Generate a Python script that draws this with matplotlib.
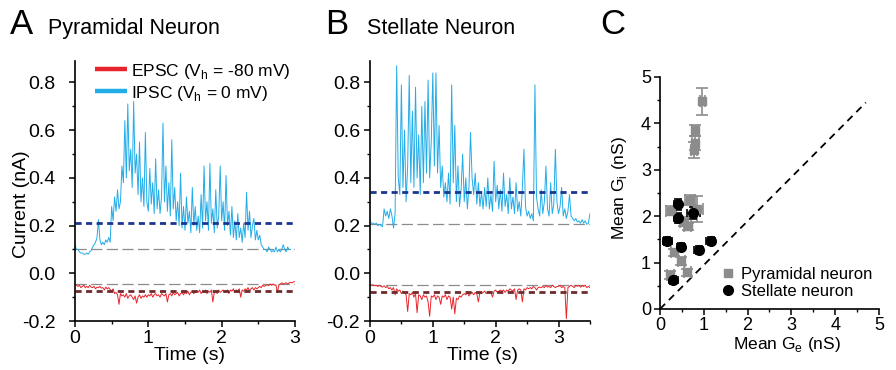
import numpy as np
import matplotlib
matplotlib.use("Agg")
import matplotlib.pyplot as plt
from matplotlib.ticker import MultipleLocator

plt.rcParams['font.family'] = ['Liberation Sans', 'DejaVu Sans']
plt.rcParams['mathtext.fontset'] = 'custom'
plt.rcParams['mathtext.rm'] = 'Liberation Sans'

# ---- panel A: pyramidal neuron traces (dt = 0.02 s) ----
pyr_dt = 0.02
pyr_ipsc = [
    0.12, 0.10, 0.10, 0.09, 0.085, 0.085, 0.08, 0.08, 0.085, 0.08, 0.09, 0.095, 0.11,
    0.12, 0.13, 0.15, 0.225, 0.14, 0.12, 0.13, 0.12, 0.14, 0.13, 0.15, 0.13,
    0.28, 0.22, 0.32, 0.26, 0.35, 0.27, 0.30, 0.45, 0.38, 0.64, 0.40, 0.71, 0.43,
    0.52, 0.36, 0.72, 0.42, 0.50, 0.33, 0.55, 0.30, 0.40, 0.28, 0.59, 0.30,
    0.26, 0.44, 0.29, 0.38, 0.25, 0.48, 0.27, 0.35, 0.25, 0.32, 0.63, 0.30, 0.45,
    0.26, 0.38, 0.24, 0.56, 0.27, 0.36, 0.22, 0.30, 0.20, 0.42, 0.19, 0.28,
    0.18, 0.32, 0.21, 0.26, 0.17, 0.36, 0.20, 0.28, 0.18, 0.24, 0.17, 0.33, 0.19,
    0.45, 0.22, 0.30, 0.18, 0.46, 0.21, 0.27, 0.17, 0.35, 0.19, 0.24, 0.45,
    0.22, 0.30, 0.18, 0.41, 0.20, 0.26, 0.16, 0.28, 0.15, 0.22, 0.14, 0.25, 0.15,
    0.19, 0.13, 0.21, 0.15, 0.34, 0.18, 0.26, 0.15, 0.20, 0.23, 0.14, 0.18,
    0.14, 0.16, 0.12, 0.11, 0.10, 0.10, 0.09, 0.11, 0.10, 0.09, 0.095, 0.09,
    0.11, 0.09, 0.10, 0.09, 0.10, 0.12, 0.10, 0.09, 0.11, 0.10, 0.10,
]
pyr_epsc = [
    -0.045, -0.05, -0.055, -0.05, -0.06, -0.055, -0.05, -0.06, -0.055, -0.06, -0.05, -0.058,
    -0.06, -0.055, -0.065, -0.058, -0.06, -0.055, -0.062, -0.06, -0.07, -0.058, -0.065, -0.06, -0.068,
    -0.075, -0.065, -0.085, -0.08, -0.09, -0.13, -0.085, -0.095, -0.09, -0.1, -0.085, -0.105,
    -0.095, -0.09, -0.1, -0.11, -0.095, -0.125, -0.1, -0.09, -0.105, -0.095, -0.1, -0.09, -0.1,
    -0.09, -0.095, -0.085, -0.1, -0.09, -0.085, -0.095, -0.09, -0.1, -0.085, -0.09, -0.095,
    -0.085, -0.12, -0.09, -0.085, -0.095, -0.08, -0.09, -0.085, -0.08, -0.095, -0.085, -0.08, -0.09,
    -0.08, -0.085, -0.075, -0.09, -0.08, -0.075, -0.085, -0.08, -0.075, -0.08, -0.07, -0.085,
    -0.075, -0.08, -0.07, -0.085, -0.075, -0.08, -0.07, -0.12, -0.08, -0.075, -0.085, -0.07, -0.08,
    -0.075, -0.07, -0.08, -0.075, -0.07, -0.085, -0.07, -0.075, -0.065, -0.08, -0.07, -0.075,
    -0.065, -0.1, -0.07, -0.075, -0.065, -0.07, -0.06, -0.075, -0.065, -0.06, -0.07, -0.06, -0.065,
    -0.06, -0.055, -0.06, -0.05, -0.055, -0.05, -0.048, -0.052, -0.045, -0.05, -0.045, -0.05,
    -0.048, -0.08, -0.05, -0.045, -0.04, -0.045, -0.042, -0.04, -0.045, -0.04, -0.038, -0.04,
    -0.036, -0.035,
]
pyr_levels = {'ipsc_base': 0.10, 'ipsc_mean': 0.21, 'epsc_base': -0.045, 'epsc_mean': -0.075}

# ---- panel B: stellate neuron traces (dt = 0.025 s) ----
ste_dt = 0.025
ste_ipsc = [
    0.22, 0.21, 0.21, 0.205, 0.21, 0.20, 0.205, 0.20, 0.195,
    0.27, 0.24, 0.26, 0.23, 0.27, 0.24, 0.19, 0.25,
    0.87, 0.40, 0.33, 0.79, 0.36, 0.60, 0.30, 0.45, 0.83, 0.38, 0.68, 0.36, 0.78, 0.40,
    0.58, 0.33, 0.70, 0.38, 0.72, 0.42, 0.81, 0.40, 0.55, 0.84, 0.45, 0.84, 0.42, 0.62,
    0.36, 0.45, 0.32, 0.38, 0.30, 0.42, 0.29, 0.79, 0.38, 0.62, 0.30, 0.45, 0.28, 0.35,
    0.50, 0.30, 0.40, 0.27, 0.36, 0.59, 0.40, 0.33, 0.42, 0.29, 0.38, 0.28, 0.34, 0.27,
    0.36, 0.28, 0.40, 0.27, 0.33, 0.26, 0.47, 0.30, 0.37, 0.27, 0.35, 0.26, 0.42, 0.28,
    0.33, 0.25, 0.40, 0.27, 0.32, 0.25, 0.38, 0.26, 0.30, 0.24, 0.36, 0.52, 0.28, 0.24,
    0.26, 0.23, 0.25, 0.22, 0.79, 0.32, 0.27, 0.24, 0.35, 0.25, 0.30, 0.45, 0.27, 0.24,
    0.38, 0.25, 0.29, 0.52, 0.30, 0.25, 0.28, 0.36, 0.24, 0.27, 0.23, 0.26, 0.33, 0.24,
    0.23, 0.22, 0.23, 0.215, 0.22, 0.21, 0.225, 0.21, 0.22, 0.205, 0.21, 0.25,
]
ste_epsc = [
    -0.045, -0.05, -0.048, -0.052, -0.05, -0.055, -0.05, -0.055, -0.058, -0.052, -0.06, -0.055,
    -0.065, -0.06, -0.07, -0.06, -0.09, -0.065, -0.075, -0.07, -0.085, -0.075, -0.08, -0.09,
    -0.16, -0.085, -0.09, -0.08, -0.1, -0.085, -0.165, -0.09, -0.095, -0.11, -0.09, -0.1,
    -0.095, -0.12, -0.18, -0.095, -0.1, -0.09, -0.11, -0.095, -0.1, -0.13, -0.095, -0.1,
    -0.09, -0.11, -0.095, -0.1, -0.15, -0.1, -0.17, -0.105, -0.11, -0.095, -0.1, -0.09,
    -0.085, -0.09, -0.08, -0.095, -0.085, -0.08, -0.09, -0.08, -0.085, -0.12, -0.08, -0.085,
    -0.08, -0.075, -0.085, -0.08, -0.075, -0.08, -0.1, -0.075, -0.07, -0.08, -0.075, -0.07,
    -0.075, -0.07, -0.08, -0.07, -0.075, -0.065, -0.07, -0.075, -0.065, -0.11, -0.07, -0.065,
    -0.07, -0.12, -0.065, -0.07, -0.06, -0.065, -0.06, -0.065, -0.055, -0.06, -0.07, -0.06,
    -0.058, -0.06, -0.055, -0.06, -0.05, -0.058, -0.055, -0.06, -0.05, -0.055, -0.06, -0.055,
    -0.055, -0.05, -0.06, -0.055, -0.06, -0.19, -0.06, -0.055, -0.05, -0.055, -0.06, -0.05,
    -0.055, -0.05, -0.058, -0.052, -0.055, -0.05, -0.06, -0.055, -0.06,
]
ste_levels = {'ipsc_base': 0.205, 'ipsc_mean': 0.34, 'epsc_base': -0.05, 'epsc_mean': -0.08}

# ---- panel C: mean conductances ----
pyr_ge = [0.97, 0.80, 0.80, 0.78, 0.68, 0.85, 0.25, 0.55, 0.63, 0.32, 0.48, 0.62, 0.23]
pyr_gi = [4.48, 3.85, 3.58, 3.43, 2.35, 2.15, 2.12, 1.88, 1.78, 1.22, 1.03, 0.79, 0.73]
pyr_ge_err = [0.06, 0.07, 0.08, 0.07, 0.12, 0.14, 0.12, 0.10, 0.08, 0.08, 0.08, 0.08, 0.08]
pyr_gi_err = [0.29, 0.12, 0.15, 0.17, 0.10, 0.28, 0.10, 0.10, 0.08, 0.08, 0.08, 0.08, 0.08]

ste_ge = [0.40, 0.40, 0.76, 0.17, 0.48, 0.88, 1.16, 0.30]
ste_gi = [2.26, 1.96, 2.07, 1.47, 1.34, 1.27, 1.46, 0.63]
ste_ge_err = [0.08, 0.09, 0.15, 0.10, 0.10, 0.10, 0.10, 0.10]
ste_gi_err = [0.12, 0.10, 0.12, 0.09, 0.09, 0.09, 0.09, 0.09]

red = '#e8232b'
blue = '#22ace8'
navy = '#1b3591'
brown = '#6e2b2b'
grey = '#8c8c8c'

fig = plt.figure(figsize=(8.96, 3.7), dpi=100)


def style_axes(ax, fs, ypad, xpad):
    ax.spines['top'].set_visible(False)
    ax.spines['right'].set_visible(False)
    for s in ['left', 'bottom']:
        ax.spines[s].set_linewidth(1.2)
    ax.tick_params(which='major', direction='out', length=4, width=1.1, labelsize=fs)
    ax.tick_params(which='minor', direction='out', length=2.5, width=1.0)
    ax.tick_params(axis='y', which='major', pad=ypad)
    ax.tick_params(axis='x', which='major', pad=xpad)


def trace_panel(ax, dt, ipsc, epsc, lv, tmax, ypad):
    t_i = np.arange(len(ipsc)) * dt
    t_e = np.arange(len(epsc)) * dt
    ax.plot([0, tmax], [lv['ipsc_base']] * 2, color=grey, lw=0.9, dashes=(9, 3.5))
    ax.plot([0, tmax], [lv['epsc_base']] * 2, color=grey, lw=0.9, dashes=(9, 3.5))
    ax.plot(t_i, ipsc, color=blue, lw=0.7)
    ax.plot(t_e, epsc, color=red, lw=0.7)
    ax.plot([0, tmax], [lv['ipsc_mean']] * 2, color=navy, lw=2.0, dashes=(2.2, 1.6))
    ax.plot([0, tmax], [lv['epsc_mean']] * 2, color=brown, lw=2.0, dashes=(2.2, 1.6))
    ax.set_xlim(0, tmax)
    ax.set_ylim(-0.2, 0.89)
    ax.yaxis.set_minor_locator(MultipleLocator(0.1))
    ax.xaxis.set_major_locator(MultipleLocator(1))
    ax.xaxis.set_minor_locator(MultipleLocator(0.5))
    ax.set_yticks([-0.2, 0.0, 0.2, 0.4, 0.6, 0.8])
    ax.set_yticklabels(['-0.2', '0.0', '0.2', '0.4', '0.6', '0.8'])
    ax.set_xlabel('Time (s)', fontsize=14)
    style_axes(ax, 14, ypad, 2.5)


axA = fig.add_axes([0.0837, 0.1324, 0.2455, 0.7027])
trace_panel(axA, pyr_dt, pyr_ipsc, pyr_epsc, pyr_levels, 3.0, 10)
axA.xaxis.set_label_coords(0.52, -0.1)
axA.set_ylabel('Current (nA)', fontsize=14)
axA.yaxis.set_label_coords(-0.205, 0.45)

# legend of panel A, drawn as short thick lines with labels
leg_rows = [0.968, 0.884]
leg_colors = [red, blue]
leg_labels = ['EPSC (V$_{\\mathregular{h}}$ = -80 mV)', 'IPSC (V$_{\\mathregular{h}}$ = 0 mV)']
for yy, cc, lab in zip(leg_rows, leg_colors, leg_labels):
    axA.plot([0.091, 0.236], [yy, yy], color=cc, lw=3.2, transform=axA.transAxes,
             solid_capstyle='butt', clip_on=False)
    axA.text(0.254, yy, lab, transform=axA.transAxes, fontsize=12.5, va='center_baseline',
             ha='left')

axB = fig.add_axes([0.4129, 0.1324, 0.2455, 0.7027])
trace_panel(axB, ste_dt, ste_ipsc, ste_epsc, ste_levels, 3.5, 3)
axB.xaxis.set_label_coords(0.51, -0.1)

axC = fig.add_axes([0.7366, 0.1649, 0.2444, 0.627])
axC.plot([0, 4.7], [0, 4.45], color='black', lw=1.3, dashes=(4, 3))
axC.errorbar(pyr_ge, pyr_gi, xerr=pyr_ge_err, yerr=pyr_gi_err, fmt='s', color=grey,
             ms=6, ecolor=grey, elinewidth=1.2, capsize=4, capthick=1.2)
axC.errorbar(ste_ge, ste_gi, xerr=ste_ge_err, yerr=ste_gi_err, fmt='o', color='black',
             ms=7, ecolor='black', elinewidth=1.2, capsize=3, capthick=1.2)
axC.set_xlim(0, 5)
axC.set_ylim(0, 5)
axC.xaxis.set_major_locator(MultipleLocator(1))
axC.xaxis.set_minor_locator(MultipleLocator(0.5))
axC.yaxis.set_major_locator(MultipleLocator(1))
axC.yaxis.set_minor_locator(MultipleLocator(0.5))
axC.set_xlabel('Mean G$_{\\mathregular{e}}$ (nS)', fontsize=12.5)
axC.xaxis.set_label_coords(0.58, -0.11)
axC.set_ylabel('Mean G$_{\\mathregular{i}}$ (nS)', fontsize=12.5)
axC.yaxis.set_label_coords(-0.14, 0.52)
style_axes(axC, 13, 2.5, 1.5)

# legend of panel C
axC.plot([0.31], [0.155], marker='s', color=grey, ms=6, ls='none', transform=axC.transAxes,
         clip_on=False)
axC.plot([0.31], [0.082], marker='o', color='black', ms=7, ls='none', transform=axC.transAxes,
         clip_on=False)
axC.text(0.372, 0.155, 'Pyramidal neuron', transform=axC.transAxes, fontsize=12,
         va='center_baseline')
axC.text(0.372, 0.082, 'Stellate neuron', transform=axC.transAxes, fontsize=12,
         va='center_baseline')

# panel letters and titles
fig.text(10 / 896, 1 - 34 / 370, 'A', fontsize=25, va='baseline')
fig.text(48 / 896, 1 - 34 / 370, 'Pyramidal Neuron', fontsize=15.5, va='baseline')
fig.text(325 / 896, 1 - 34 / 370, 'B', fontsize=25, va='baseline')
fig.text(367 / 896, 1 - 34 / 370, 'Stellate Neuron', fontsize=15.5, va='baseline')
fig.text(600 / 896, 1 - 34 / 370, 'C', fontsize=25, va='baseline')

fig.savefig('out.png', dpi=100)
